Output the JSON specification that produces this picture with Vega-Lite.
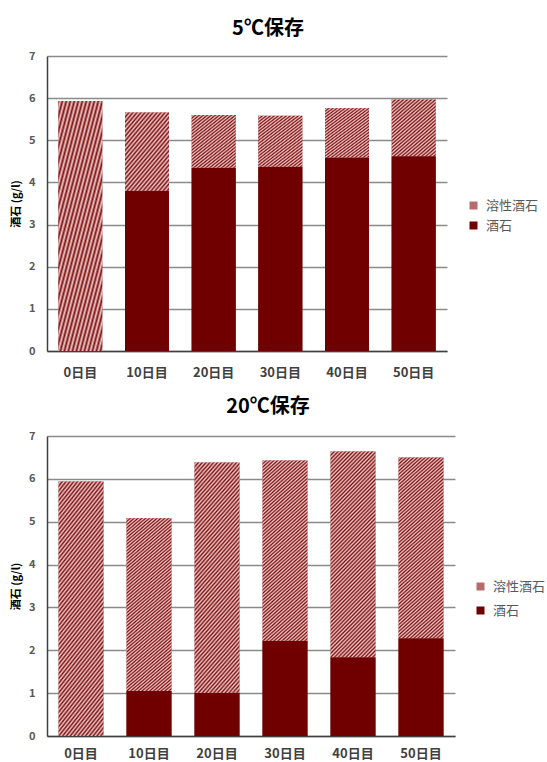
{
  "$schema": "https://vega.github.io/schema/vega-lite/v6.json",
  "padding": {"top": 19, "left": 10, "right": 0, "bottom": 0},
  "spacing": 18,
  "config": {
    "font": "Noto Sans CJK JP",
    "view": {"stroke": null},
    "title": {"fontSize": 20, "fontWeight": "bold", "color": "#000000", "anchor": "middle"},
    "axisY": {
      "domainColor": "#404040", "domainWidth": 1.5,
      "grid": true, "gridColor": "#8a8a8a", "gridWidth": 1.4,
      "ticks": false,
      "labelFontSize": 11, "labelFontWeight": "bold", "labelColor": "#595959", "labelPadding": 12,
      "titleFontSize": 11, "titleFontWeight": "bold", "titleColor": "#000000", "titlePadding": 7
    },
    "axisX": {
      "domainColor": "#404040", "domainWidth": 1.5,
      "grid": false, "ticks": false,
      "labelAngle": 0, "labelFontSize": 13, "labelFontWeight": "bold", "labelColor": "#404040", "labelPadding": 15
    },
    "legend": {
      "title": null, "orient": "none",
      "symbolType": "square", "symbolSize": 64, "symbolStrokeWidth": 0,
      "labelFontSize": 13, "labelColor": "#595959", "labelOffset": 6
    }
  },
  "resolve": {"scale": {"fill": "independent", "y": "independent", "x": "independent"}, "legend": {"fill": "independent"}},
  "vconcat": [
    {
      "title": {"text": "5℃保存", "dx": 21, "offset": 11},
      "width": 400,
      "height": 295,
      "data": {
        "values": [
          {"day": "0日目", "type": "酒石", "value": 0},
          {"day": "0日目", "type": "溶性酒石", "value": 5.93},
          {"day": "10日目", "type": "酒石", "value": 3.8},
          {"day": "10日目", "type": "溶性酒石", "value": 1.86},
          {"day": "20日目", "type": "酒石", "value": 4.35},
          {"day": "20日目", "type": "溶性酒石", "value": 1.25},
          {"day": "30日目", "type": "酒石", "value": 4.37},
          {"day": "30日目", "type": "溶性酒石", "value": 1.21},
          {"day": "40日目", "type": "酒石", "value": 4.59},
          {"day": "40日目", "type": "溶性酒石", "value": 1.17},
          {"day": "50日目", "type": "酒石", "value": 4.62},
          {"day": "50日目", "type": "溶性酒石", "value": 1.35}
        ]
      },
      "encoding": {
        "x": {"field": "day", "type": "nominal", "sort": null, "title": null,
              "scale": {"paddingInner": 0.34, "paddingOuter": 0.17}},
        "y": {"field": "value", "type": "quantitative", "stack": "zero",
              "scale": {"domain": [0, 7], "nice": false},
              "axis": {"values": [0, 1, 2, 3, 4, 5, 6, 7], "title": "酒石 (g/l)"}},
        "order": {"field": "type", "sort": "descending"}
      },
      "layer": [
        {
          "mark": {"type": "bar"},
          "encoding": {
            "fill": {"field": "type", "type": "nominal",
                     "scale": {"domain": ["溶性酒石", "酒石"], "range": ["#b66c6c", "#700000"]},
                     "legend": {"legendX": 420, "legendY": 143, "rowPadding": 6}}
          }
        },
        {
          "mark": {"type": "bar"},
          "encoding": {
            "fill": {
              "condition": {
                "test": "datum.type === '溶性酒石'",
                "value": {
                  "gradient": "linear", "x1": 0, "y1": 0, "x2": 1, "y2": 1.5,
                  "stops": [
                    {"offset": 0, "color": "#7d0f0f"}, {"offset": 0.014, "color": "#efcaca"},
                    {"offset": 0.028, "color": "#7d0f0f"}, {"offset": 0.042, "color": "#efcaca"},
                    {"offset": 0.056, "color": "#7d0f0f"}, {"offset": 0.07, "color": "#efcaca"},
                    {"offset": 0.084, "color": "#7d0f0f"}, {"offset": 0.098, "color": "#efcaca"},
                    {"offset": 0.112, "color": "#7d0f0f"}, {"offset": 0.126, "color": "#efcaca"},
                    {"offset": 0.14, "color": "#7d0f0f"}, {"offset": 0.154, "color": "#efcaca"},
                    {"offset": 0.168, "color": "#7d0f0f"}, {"offset": 0.182, "color": "#efcaca"},
                    {"offset": 0.196, "color": "#7d0f0f"}, {"offset": 0.21, "color": "#efcaca"},
                    {"offset": 0.224, "color": "#7d0f0f"}, {"offset": 0.238, "color": "#efcaca"},
                    {"offset": 0.252, "color": "#7d0f0f"}, {"offset": 0.266, "color": "#efcaca"},
                    {"offset": 0.28, "color": "#7d0f0f"}, {"offset": 0.294, "color": "#efcaca"},
                    {"offset": 0.308, "color": "#7d0f0f"}, {"offset": 0.322, "color": "#efcaca"},
                    {"offset": 0.336, "color": "#7d0f0f"}, {"offset": 0.35, "color": "#efcaca"},
                    {"offset": 0.364, "color": "#7d0f0f"}, {"offset": 0.378, "color": "#efcaca"},
                    {"offset": 0.392, "color": "#7d0f0f"}, {"offset": 0.406, "color": "#efcaca"},
                    {"offset": 0.42, "color": "#7d0f0f"}, {"offset": 0.434, "color": "#efcaca"},
                    {"offset": 0.448, "color": "#7d0f0f"}, {"offset": 0.462, "color": "#efcaca"},
                    {"offset": 0.476, "color": "#7d0f0f"}, {"offset": 0.49, "color": "#efcaca"},
                    {"offset": 0.504, "color": "#7d0f0f"}, {"offset": 0.518, "color": "#efcaca"},
                    {"offset": 0.532, "color": "#7d0f0f"}, {"offset": 0.546, "color": "#efcaca"},
                    {"offset": 0.56, "color": "#7d0f0f"}, {"offset": 0.574, "color": "#efcaca"},
                    {"offset": 0.588, "color": "#7d0f0f"}, {"offset": 0.602, "color": "#efcaca"},
                    {"offset": 0.616, "color": "#7d0f0f"}, {"offset": 0.63, "color": "#efcaca"},
                    {"offset": 0.644, "color": "#7d0f0f"}, {"offset": 0.658, "color": "#efcaca"},
                    {"offset": 0.672, "color": "#7d0f0f"}, {"offset": 0.686, "color": "#efcaca"},
                    {"offset": 0.7, "color": "#7d0f0f"}, {"offset": 0.714, "color": "#efcaca"},
                    {"offset": 0.728, "color": "#7d0f0f"}, {"offset": 0.742, "color": "#efcaca"},
                    {"offset": 0.756, "color": "#7d0f0f"}, {"offset": 0.77, "color": "#efcaca"},
                    {"offset": 0.784, "color": "#7d0f0f"}
                  ]
                }
              },
              "value": "#700000"
            }
          }
        }
      ]
    },
    {
      "title": {"text": "20℃保存", "dx": 17, "offset": 13},
      "width": 408,
      "height": 300,
      "data": {
        "values": [
          {"day": "0日目", "type": "酒石", "value": 0},
          {"day": "0日目", "type": "溶性酒石", "value": 5.94},
          {"day": "10日目", "type": "酒石", "value": 1.05},
          {"day": "10日目", "type": "溶性酒石", "value": 4.03},
          {"day": "20日目", "type": "酒石", "value": 1.01},
          {"day": "20日目", "type": "溶性酒石", "value": 5.37},
          {"day": "30日目", "type": "酒石", "value": 2.22},
          {"day": "30日目", "type": "溶性酒石", "value": 4.21},
          {"day": "40日目", "type": "酒石", "value": 1.84},
          {"day": "40日目", "type": "溶性酒石", "value": 4.8},
          {"day": "50日目", "type": "酒石", "value": 2.28},
          {"day": "50日目", "type": "溶性酒石", "value": 4.22}
        ]
      },
      "encoding": {
        "x": {"field": "day", "type": "nominal", "sort": null, "title": null,
              "axis": {"labelPadding": 11},
              "scale": {"paddingInner": 0.34, "paddingOuter": 0.17}},
        "y": {"field": "value", "type": "quantitative", "stack": "zero",
              "scale": {"domain": [0, 7], "nice": false},
              "axis": {"values": [0, 1, 2, 3, 4, 5, 6, 7], "title": "酒石 (g/l)"}},
        "order": {"field": "type", "sort": "descending"}
      },
      "layer": [
        {
          "mark": {"type": "bar"},
          "encoding": {
            "fill": {"field": "type", "type": "nominal",
                     "scale": {"domain": ["溶性酒石", "酒石"], "range": ["#b66c6c", "#700000"]},
                     "legend": {"legendX": 427, "legendY": 144, "rowPadding": 10}}
          }
        },
        {
          "mark": {"type": "bar"},
          "encoding": {
            "fill": {
              "condition": {
                "test": "datum.type === '溶性酒石'",
                "value": {
                  "gradient": "linear", "x1": 0, "y1": 0, "x2": 1, "y2": 4.5,
                  "stops": [
                    {"offset": 0, "color": "#7d0f0f"}, {"offset": 0.002, "color": "#efcaca"},
                    {"offset": 0.004, "color": "#7d0f0f"}, {"offset": 0.006, "color": "#efcaca"},
                    {"offset": 0.008, "color": "#7d0f0f"}, {"offset": 0.01, "color": "#efcaca"},
                    {"offset": 0.012, "color": "#7d0f0f"}, {"offset": 0.014, "color": "#efcaca"},
                    {"offset": 0.016, "color": "#7d0f0f"}, {"offset": 0.018, "color": "#efcaca"},
                    {"offset": 0.02, "color": "#7d0f0f"}, {"offset": 0.022, "color": "#efcaca"},
                    {"offset": 0.024, "color": "#7d0f0f"}, {"offset": 0.026, "color": "#efcaca"},
                    {"offset": 0.028, "color": "#7d0f0f"}, {"offset": 0.03, "color": "#efcaca"},
                    {"offset": 0.032, "color": "#7d0f0f"}, {"offset": 0.034, "color": "#efcaca"},
                    {"offset": 0.036, "color": "#7d0f0f"}, {"offset": 0.038, "color": "#efcaca"},
                    {"offset": 0.04, "color": "#7d0f0f"}, {"offset": 0.042, "color": "#efcaca"},
                    {"offset": 0.044, "color": "#7d0f0f"}, {"offset": 0.046, "color": "#efcaca"},
                    {"offset": 0.048, "color": "#7d0f0f"}, {"offset": 0.05, "color": "#efcaca"},
                    {"offset": 0.052, "color": "#7d0f0f"}, {"offset": 0.054, "color": "#efcaca"},
                    {"offset": 0.056, "color": "#7d0f0f"}, {"offset": 0.058, "color": "#efcaca"},
                    {"offset": 0.06, "color": "#7d0f0f"}, {"offset": 0.062, "color": "#efcaca"},
                    {"offset": 0.064, "color": "#7d0f0f"}, {"offset": 0.066, "color": "#efcaca"},
                    {"offset": 0.068, "color": "#7d0f0f"}, {"offset": 0.07, "color": "#efcaca"},
                    {"offset": 0.072, "color": "#7d0f0f"}, {"offset": 0.074, "color": "#efcaca"},
                    {"offset": 0.076, "color": "#7d0f0f"}, {"offset": 0.078, "color": "#efcaca"},
                    {"offset": 0.08, "color": "#7d0f0f"}, {"offset": 0.082, "color": "#efcaca"},
                    {"offset": 0.084, "color": "#7d0f0f"}, {"offset": 0.086, "color": "#efcaca"},
                    {"offset": 0.088, "color": "#7d0f0f"}, {"offset": 0.09, "color": "#efcaca"},
                    {"offset": 0.092, "color": "#7d0f0f"}, {"offset": 0.094, "color": "#efcaca"},
                    {"offset": 0.096, "color": "#7d0f0f"}, {"offset": 0.098, "color": "#efcaca"},
                    {"offset": 0.1, "color": "#7d0f0f"}, {"offset": 0.102, "color": "#efcaca"},
                    {"offset": 0.104, "color": "#7d0f0f"}, {"offset": 0.106, "color": "#efcaca"},
                    {"offset": 0.108, "color": "#7d0f0f"}, {"offset": 0.11, "color": "#efcaca"},
                    {"offset": 0.112, "color": "#7d0f0f"}, {"offset": 0.114, "color": "#efcaca"},
                    {"offset": 0.116, "color": "#7d0f0f"}, {"offset": 0.118, "color": "#efcaca"},
                    {"offset": 0.12, "color": "#7d0f0f"}, {"offset": 0.122, "color": "#efcaca"},
                    {"offset": 0.124, "color": "#7d0f0f"}, {"offset": 0.126, "color": "#efcaca"},
                    {"offset": 0.128, "color": "#7d0f0f"}, {"offset": 0.13, "color": "#efcaca"},
                    {"offset": 0.132, "color": "#7d0f0f"}, {"offset": 0.134, "color": "#efcaca"},
                    {"offset": 0.136, "color": "#7d0f0f"}, {"offset": 0.138, "color": "#efcaca"},
                    {"offset": 0.14, "color": "#7d0f0f"}, {"offset": 0.142, "color": "#efcaca"},
                    {"offset": 0.144, "color": "#7d0f0f"}, {"offset": 0.146, "color": "#efcaca"},
                    {"offset": 0.148, "color": "#7d0f0f"}, {"offset": 0.15, "color": "#efcaca"},
                    {"offset": 0.152, "color": "#7d0f0f"}, {"offset": 0.154, "color": "#efcaca"},
                    {"offset": 0.156, "color": "#7d0f0f"}, {"offset": 0.158, "color": "#efcaca"},
                    {"offset": 0.16, "color": "#7d0f0f"}, {"offset": 0.162, "color": "#efcaca"},
                    {"offset": 0.164, "color": "#7d0f0f"}, {"offset": 0.166, "color": "#efcaca"},
                    {"offset": 0.168, "color": "#7d0f0f"}, {"offset": 0.17, "color": "#efcaca"},
                    {"offset": 0.172, "color": "#7d0f0f"}, {"offset": 0.174, "color": "#efcaca"},
                    {"offset": 0.176, "color": "#7d0f0f"}, {"offset": 0.178, "color": "#efcaca"},
                    {"offset": 0.18, "color": "#7d0f0f"}, {"offset": 0.182, "color": "#efcaca"},
                    {"offset": 0.184, "color": "#7d0f0f"}, {"offset": 0.186, "color": "#efcaca"},
                    {"offset": 0.188, "color": "#7d0f0f"}, {"offset": 0.19, "color": "#efcaca"},
                    {"offset": 0.192, "color": "#7d0f0f"}, {"offset": 0.194, "color": "#efcaca"},
                    {"offset": 0.196, "color": "#7d0f0f"}, {"offset": 0.198, "color": "#efcaca"},
                    {"offset": 0.2, "color": "#7d0f0f"}, {"offset": 0.202, "color": "#efcaca"},
                    {"offset": 0.204, "color": "#7d0f0f"}, {"offset": 0.206, "color": "#efcaca"},
                    {"offset": 0.208, "color": "#7d0f0f"}, {"offset": 0.21, "color": "#efcaca"},
                    {"offset": 0.212, "color": "#7d0f0f"}, {"offset": 0.214, "color": "#efcaca"},
                    {"offset": 0.216, "color": "#7d0f0f"}, {"offset": 0.218, "color": "#efcaca"},
                    {"offset": 0.22, "color": "#7d0f0f"}, {"offset": 0.222, "color": "#efcaca"},
                    {"offset": 0.224, "color": "#7d0f0f"}, {"offset": 0.226, "color": "#efcaca"},
                    {"offset": 0.228, "color": "#7d0f0f"}, {"offset": 0.23, "color": "#efcaca"},
                    {"offset": 0.232, "color": "#7d0f0f"}, {"offset": 0.234, "color": "#efcaca"},
                    {"offset": 0.236, "color": "#7d0f0f"}, {"offset": 0.238, "color": "#efcaca"},
                    {"offset": 0.24, "color": "#7d0f0f"}, {"offset": 0.242, "color": "#efcaca"},
                    {"offset": 0.244, "color": "#7d0f0f"}, {"offset": 0.246, "color": "#efcaca"},
                    {"offset": 0.248, "color": "#7d0f0f"}, {"offset": 0.25, "color": "#efcaca"},
                    {"offset": 0.252, "color": "#7d0f0f"}, {"offset": 0.254, "color": "#efcaca"},
                    {"offset": 0.256, "color": "#7d0f0f"}, {"offset": 0.258, "color": "#efcaca"},
                    {"offset": 0.26, "color": "#7d0f0f"}
                  ]
                }
              },
              "value": "#700000"
            }
          }
        }
      ]
    }
  ]
}
